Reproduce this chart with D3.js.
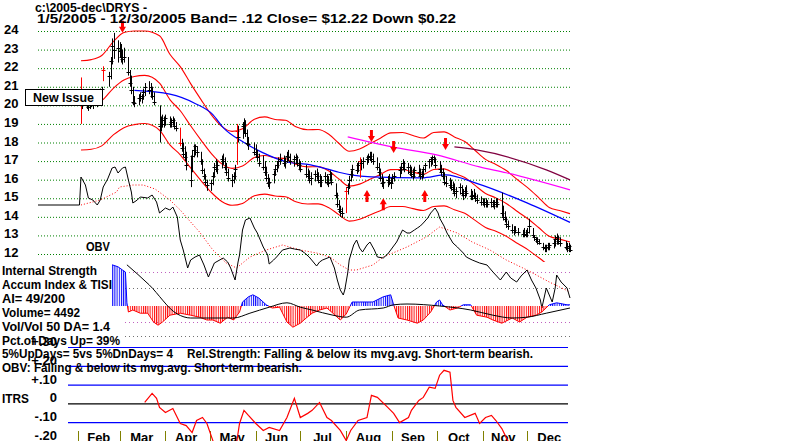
<!DOCTYPE html>
<html><head><meta charset="utf-8">
<script src="https://cdn.jsdelivr.net/npm/d3@7"></script>
<style>
body{margin:0;background:#fff}
svg{display:block}
text{font-family:"Liberation Sans",Arial,sans-serif;font-weight:bold;font-size:13px;fill:#000}
</style>
</head><body>
<svg id="c" width="800" height="441"></svg>
<script>
// ---------- DATA ----------
const daysFeb=[3,4,7,8,9,10,11,14,15,16,17,18,22,23,24,25,28];
const daysMar=[1,2,3,4,7,8,9,10,11,14,15,16,17,18,21,22,23,24,28,29,30,31];
const daysApr=[1,4,5,6,7,8,11,12,13,14,15,18,19,20,21,22,25,26,27,28,29];
const daysMay=[2,3,4,5,6,9,10,11,12,13,16,17,18,19,20,23,24,25,26,27,31];
const daysJun=[1,2,3,6,7,8,9,10,13,14,15,16,17,20,21,22,23,24,27,28,29,30];
const daysJul=[1,5,6,7,8,11,12,13,14,15,18,19,20,21,22,25,26,27,28,29];
const daysAug=[1,2,3,4,5,8,9,10,11,12,15,16,17,18,19,22,23,24,25,26,29,30,31];
const daysSep=[1,2,6,7,8,9,12,13,14,15,16,19,20,21,22,23,26,27,28,29,30];
const daysOct=[3,4,5,6,7,10,11,12,13,14,17,18,19,20,21,24,25,26,27,28,31];
const daysNov=[1,2,3,4,7,8,9,10,11,14,15,16,17,18,21,22,23,25,28,29,30];
const daysDec=[1,2,5,6,7,8,9,12,13,14,15,16,19,20,21,22,23,27,28,29,30];

const highs=[
21.5,20.4,20.3,20.2,20.2,20.3,20.2,20.4,20.6,20.9,21.0,22.1,21.8,22.6,23.6,23.9,23.5,
23.4,23.3,23.0,23.1,22.6,21.9,21.6,21.0,20.5,20.6,20.7,20.6,20.9,21.2,21.3,21.2,21.0,20.7,20.0,19.4,19.5,19.4,
19.5,19.4,19.3,19.4,19.3,19.1,18.8,18.2,18.0,17.8,17.5,17.3,17.6,17.9,17.9,17.8,17.5,17.1,16.6,16.3,16.0,
16.0,16.4,16.9,17.1,17.0,17.3,17.4,17.2,16.9,16.6,16.3,16.4,16.8,19.0,18.9,19.1,19.3,19.2,18.7,18.3,18.0,
17.9,17.6,17.4,17.3,17.0,16.7,16.3,16.1,16.5,16.8,17.0,17.2,17.4,17.3,17.2,17.5,17.6,17.4,17.3,17.4,17.3,17.1,
17.0,16.8,16.6,16.5,16.4,16.5,16.6,16.4,16.3,16.2,16.4,16.3,16.2,16.5,16.4,15.8,15.3,14.9,14.6,14.5,
15.6,15.8,16.2,16.5,16.8,16.9,17.0,17.2,17.1,17.2,17.3,17.4,17.5,17.5,17.4,17.2,16.9,16.6,16.3,16.1,16.2,16.3,16.1,
16.3,16.4,16.7,16.9,17.1,17.0,16.9,16.8,16.7,16.6,16.7,16.8,16.6,16.5,16.7,16.9,17.1,17.2,17.3,17.3,17.2,
17.0,16.8,16.6,16.4,16.2,16.1,16.0,15.9,15.8,15.6,15.8,15.7,15.5,15.6,15.7,15.5,15.4,15.5,15.3,15.2,15.1,
15.0,15.0,15.0,14.9,15.0,14.9,14.9,15.0,15.0,15.3,14.6,14.3,14.0,13.8,13.6,13.5,13.5,13.4,13.3,13.4,13.3,
13.4,13.9,13.4,13.0,12.9,12.9,12.8,12.6,12.5,12.5,12.6,12.6,12.8,13.0,13.1,13.0,12.9,12.7,12.6,12.6,12.5];
const lows=[
19.0,19.8,19.8,19.7,19.8,19.9,19.8,19.9,20.1,20.3,20.5,21.3,21.0,21.4,22.2,22.5,22.3,
22.6,22.3,22.2,22.3,21.6,21.0,20.6,20.0,19.9,20.0,20.2,20.1,20.3,20.5,20.6,20.4,20.3,20.0,18.0,18.6,18.8,18.8,
18.9,18.8,18.8,18.9,18.7,18.6,17.8,17.5,17.2,17.0,16.5,15.6,16.4,17.2,17.3,17.2,16.8,16.3,16.0,15.7,15.4,
15.4,15.7,16.1,16.4,16.3,16.6,16.8,16.5,16.2,15.9,15.6,15.8,16.0,16.8,18.0,18.2,18.5,18.3,17.8,17.6,17.3,
17.2,17.0,16.7,16.5,16.2,15.9,15.6,15.5,15.8,16.2,16.4,16.6,16.8,16.7,16.6,16.9,17.0,16.8,16.7,16.9,16.7,16.5,
16.4,16.1,16.0,15.8,15.7,15.9,16.0,15.8,15.6,15.6,15.8,15.7,15.6,15.9,15.7,15.0,14.5,14.2,14.0,13.95,
14.2,15.2,15.5,15.9,16.1,16.3,16.4,16.1,16.5,16.6,16.8,16.9,17.0,16.9,16.8,16.5,16.2,15.9,15.6,15.5,15.6,15.7,15.5,
15.8,15.9,16.1,16.3,16.5,16.4,16.3,16.2,16.1,16.0,16.1,16.2,16.0,16.0,16.1,16.4,16.6,16.7,16.8,16.9,16.6,
16.4,16.2,16.0,15.7,15.6,15.5,15.4,15.3,15.1,15.0,15.2,15.1,14.9,15.0,15.1,14.9,14.9,15.0,14.8,14.7,14.6,
14.6,14.5,14.5,14.5,14.5,14.5,14.4,14.5,14.5,14.0,13.8,13.7,13.4,13.3,13.1,13.0,13.1,13.0,12.9,12.9,12.9,
12.9,13.1,12.9,12.7,12.6,12.5,12.5,12.2,12.1,12.1,12.2,12.2,12.3,12.4,12.5,12.5,12.4,12.2,12.1,12.1,12.1];
const closes=[
20.0,20.1,20.0,19.9,20.1,20.2,20.0,20.3,20.5,20.8,20.9,21.9,21.6,22.4,23.2,23.0,23.1,
22.9,22.6,22.5,22.6,21.8,21.2,20.8,20.2,20.1,20.4,20.4,20.5,20.7,21.0,20.8,21.0,20.5,20.2,18.9,19.0,19.2,19.0,
19.3,19.0,19.1,19.2,18.9,18.8,18.0,17.7,17.4,17.2,16.8,16.0,17.3,17.6,17.8,17.5,17.0,16.5,16.2,15.9,15.7,
15.8,16.2,16.7,16.6,16.8,17.1,17.0,16.7,16.4,16.1,16.0,16.2,16.6,18.6,18.3,18.9,19.0,18.5,18.0,17.9,17.5,
17.4,17.2,16.9,16.7,16.4,16.1,15.8,15.9,16.3,16.6,16.8,17.0,17.1,16.9,17.0,17.3,17.2,17.0,17.1,17.2,16.9,16.8,
16.6,16.3,16.2,16.0,16.1,16.3,16.2,16.0,15.9,16.0,16.2,15.9,15.8,16.3,15.9,15.2,14.7,14.4,14.3,14.2,
15.4,15.6,16.0,16.3,16.6,16.5,16.8,17.0,16.9,17.0,17.1,17.2,17.3,17.1,17.0,16.7,16.4,16.1,15.8,15.9,16.0,15.9,15.8,
16.1,16.2,16.5,16.7,16.9,16.6,16.7,16.4,16.3,16.2,16.5,16.4,16.2,16.3,16.6,16.8,17.0,17.1,17.2,17.1,16.8,
16.6,16.4,16.2,15.9,15.8,15.7,15.6,15.5,15.3,15.4,15.6,15.3,15.2,15.4,15.3,15.1,15.2,15.1,15.0,14.9,14.8,
14.8,14.7,14.8,14.7,14.8,14.6,14.7,14.8,14.7,14.2,14.0,13.9,13.6,13.5,13.3,13.3,13.2,13.2,13.1,13.1,13.0,
13.2,13.5,13.0,12.9,12.8,12.7,12.6,12.4,12.3,12.4,12.4,12.5,12.6,12.8,12.9,12.7,12.6,12.4,12.3,12.44,12.22];
const redBarDates=["02-03","02-18","04-11","05-19","08-01","08-10"];

const priceTicks=[12,13,14,15,16,17,18,19,20,21,22,23,24];
const monthStarts=["02-01","03-01","04-01","05-01","06-01","07-01","08-01","09-01","10-01","11-01","12-01"];
const monthLabels=["Feb","Mar","Apr","May","Jun","Jul","Aug","Sep","Oct","Nov","Dec"];
const monthMids=["02-15","03-16","04-15","05-16","06-15","07-16","08-16","09-15","10-16","11-15","12-16"];

// 21-day average and its +/-12% band, read at every 5th trading day
const bandDates=["02-03","02-10","02-17","02-25","03-04","03-11","03-18","03-28","04-04","04-11","04-18","04-25","05-02","05-09","05-16","05-23","05-31","06-07","06-14","06-21","06-28","07-06","07-13","07-20","07-27","08-03","08-10","08-17","08-24","08-31","09-08","09-15","09-22","09-29","10-06","10-13","10-20","10-27","11-03","11-10","11-17","11-25","12-02","12-09","12-16","12-23","12-30"];
const bandMid=[20.0,20.05,20.25,20.93,21.36,21.55,21.61,21.2,20.31,19.71,18.9,18.13,17.4,16.85,16.61,16.73,17.19,17.3,17.18,17.14,16.83,16.69,16.7,16.48,16.04,15.65,15.76,16.02,16.28,16.54,16.55,16.41,16.29,16.55,16.58,16.34,16.12,15.69,15.26,15.02,14.72,14.26,13.87,13.41,12.95,12.8,12.65];
const bandUpper=[22.4,22.46,22.68,23.44,23.92,24.0,24.0,23.74,22.75,22.08,21.17,20.31,19.49,18.87,18.6,18.74,19.25,19.38,19.24,19.2,18.85,18.69,18.7,18.46,17.96,17.53,17.65,17.94,18.23,18.52,18.54,18.38,18.24,18.54,18.57,18.3,18.05,17.57,17.09,16.82,16.49,15.97,15.53,15.02,14.5,14.34,14.17];
const bandLower=[17.6,17.64,17.82,18.42,18.8,18.96,19.02,18.66,17.87,17.34,16.63,15.95,15.31,14.83,14.62,14.72,15.13,15.22,15.12,15.08,14.81,14.69,14.7,14.5,14.12,13.77,13.87,14.1,14.33,14.56,14.56,14.44,14.34,14.56,14.59,14.38,14.19,13.81,13.43,13.22,12.95,12.55,12.21,11.8,11.4,11.26,11.13];

const ma50Dates=["03-11","04-04","04-21","05-03","05-10","05-24","06-06","06-22","07-08","07-27","08-04","08-18","09-21","10-07","10-28","12-01","12-30"];
const ma50Values=[20.8,20.6,20.1,19.5,18.8,18.0,17.44,16.95,16.8,16.4,16.26,16.15,16.1,16.26,15.8,14.75,13.7];
const magDates=["08-02","09-01","10-01","10-30","11-17","12-30"];
const magValues=[18.3,17.76,17.33,16.69,16.37,15.45];
const purDates=["10-13","10-28","12-14","12-30"];
const purValues=[17.76,17.6,16.53,15.99];

const downArrowDates=["03-03","08-18","09-02","10-07"];
const downArrowTips=[23.9,18.03,17.44,17.6];
const upArrowDates=["08-15","08-26","09-23"];
const upArrowTips=[15.45,15.0,15.45];

const obvDates=["01-05","02-02","02-03","02-06","02-08","02-11","02-14","02-16","02-18","02-21","02-24","02-26","02-28","03-03","03-05","03-07","03-09","03-10","03-13","03-15","03-20","03-23","03-26","03-28","04-01","04-04","04-06","04-09","04-11","04-13","04-16","04-18","04-21","04-24","04-27","04-30","05-02","05-04","05-10","05-13","05-15","05-18","05-20","05-21","05-23","05-25","05-28","05-31","06-02","06-06","06-09","06-10","06-13","06-15","06-19","06-24","06-27","07-01","07-04","07-07","07-12","07-14","07-16","07-21","07-24","07-26","07-28","07-30","07-31","08-02","08-03","08-06","08-08","08-10","08-12","08-15","08-17","08-20","08-22","08-26","08-29","08-31","09-02","09-04","09-06","09-08","09-11","09-13","09-16","09-18","09-20","09-22","09-25","09-27","09-30","10-02","10-03","10-06","10-08","10-10","10-12","10-15","10-17","10-19","10-21","10-25","10-30","11-04","11-08","11-13","11-15","11-17","11-20","11-24","11-27","12-01","12-04","12-07","12-10","12-11","12-14","12-16","12-18","12-20","12-21","12-24","12-28","12-30"];
const obvValues=[950,950,1230,1150,1020,1000,950,1000,1130,1210,1320,1330,1270,1320,1330,1200,1080,970,1000,1030,1020,1050,980,870,920,900,930,830,600,500,320,400,430,450,350,230,300,370,420,380,320,200,380,450,700,800,820,720,670,530,450,360,400,430,500,520,510,500,470,430,340,380,400,430,320,200,100,50,100,270,400,550,600,520,480,550,580,500,430,420,460,500,540,580,640,700,670,670,700,720,740,770,820,870,920,870,820,740,670,620,570,530,500,470,430,400,370,350,280,200,240,280,220,180,240,300,200,120,0,-80,120,50,-20,120,250,180,120,20];
const obvMaDates=["02-03","02-16","02-27","03-01","03-10","03-17","03-25","04-04","04-11","04-15","04-24","05-03","05-12","05-19","05-28","06-08","06-19","07-01","07-12","07-21","07-28","08-03","08-08","08-19","08-26","09-03","09-11","09-24","10-03","10-15","10-25","11-06","11-17","12-01","12-16","12-30"];
const obvMaValues=[950,1000,1080,1130,1150,1150,1110,1000,900,830,680,500,370,320,430,500,550,500,470,430,350,300,300,350,430,480,530,630,730,670,580,500,400,300,180,80];

const aiDates=["02-24","02-28","03-03","03-05","03-06","03-07","03-10","03-15","03-20","03-24","03-27","03-30","04-04","04-11","04-18","04-24","04-29","05-03","05-08","05-13","05-17","05-21","05-23","05-27","05-30","06-03","06-08","06-12","06-17","06-22","06-26","07-01","07-05","07-09","07-14","07-19","07-23","07-28","08-01","08-05","08-10","08-19","08-26","08-31","09-02","09-05","09-11","09-18","09-22","09-27","10-01","10-03","10-05","10-10","10-15","10-19","10-24","10-28","11-04","11-08","11-14","11-21","11-26","12-01","12-07","12-11","12-16","12-21","12-28","12-30"];
const aiValues=[1.03,0.98,0.9,0.85,0.08,-0.15,-0.1,-0.18,-0.18,-0.4,-0.48,-0.4,-0.23,-0.18,-0.23,-0.28,-0.35,-0.35,-0.43,-0.28,-0.35,-0.15,0.1,0.23,0.28,0.2,0.03,-0.05,-0.03,-0.4,-0.53,-0.43,-0.3,-0.18,-0.1,-0.05,-0.18,-0.35,-0.2,0.1,0.1,0.1,0.23,0.28,0.03,-0.3,-0.35,-0.43,-0.35,-0.15,0.1,0.15,0.03,-0.1,-0.05,0.03,0.03,-0.23,-0.28,-0.35,-0.43,-0.3,-0.4,-0.28,-0.23,-0.15,0.03,0.08,0.03,0.03];
const tisiDates=["03-06","03-21","04-09","04-18","05-17","05-28","06-10","06-22","07-01","07-09","07-23","08-01","08-10","08-26","09-02","09-11","10-03","10-24","11-08","11-21","12-01","12-14","12-30"];
const tisiValues=[1.03,0.53,-0.2,-0.3,-0.3,-0.18,-0.03,0.08,-0.03,-0.1,-0.23,-0.28,-0.1,-0.05,0.03,0.05,0,-0.1,-0.23,-0.3,-0.28,-0.18,-0.05];
const aiGuideLevels=[0.85,0.45,-0.4,-0.75];

const itrsDates=["03-18","03-23","03-26","03-28","04-01","04-06","04-11","04-15","04-19","04-22","04-26","04-29","05-03","05-06","05-11","05-16","05-19","05-21","05-24","05-27","06-01","06-06","06-10","06-17","06-22","06-27","07-01","07-06","07-09","07-14","07-19","07-22","07-28","08-01","08-04","08-09","08-15","08-18","08-22","08-29","09-02","09-06","09-12","09-14","09-19","09-22","09-26","09-30","10-03","10-06","10-10","10-12","10-14","10-20","10-27","10-30","11-03","11-07","11-10","11-14","11-18","11-23","12-01","12-12","12-30"];
const itrsValues=[0.005,0.053,0.027,-0.021,-0.048,-0.027,-0.107,-0.118,-0.155,-0.091,-0.075,-0.107,-0.198,-0.26,-0.3,-0.26,-0.21,-0.107,-0.037,-0.064,-0.107,-0.144,-0.128,-0.144,-0.075,0.027,-0.075,-0.053,-0.037,0.005,-0.075,-0.091,-0.144,-0.198,-0.144,-0.091,-0.075,0.043,0.032,-0.021,-0.053,-0.102,-0.075,-0.037,0.016,0.032,0.086,0.080,0.150,0.176,0.166,0.016,-0.021,-0.075,-0.053,-0.107,-0.075,-0.064,-0.091,-0.134,-0.198,-0.25,-0.28,-0.3,-0.32];
const itrsLevels=[0.3,0.2,0.1,0,-0.1];
const itrsTickLabels=["+.30","+.20","+.10","0","-.10","-.20"];
const itrsTickValues=[0.3,0.2,0.1,0,-0.1,-0.2];

const infoLines=["Internal Strength","Accum Index & TISI","AI= 49/200","Volume= 4492","Vol/Vol 50 DA= 1.4","Pct.of Days Up= 39%"];

// ---------- SETUP ----------
const svg=d3.select("#c");
const parse=d3.timeParse("%Y-%m-%d");
const P=s=>parse("2005-"+s);
const x=d3.scaleTime().domain([parse("2005-01-05"),parse("2005-12-30")]).range([38,570]);
const y=d3.scaleLinear().domain([12,24]).range([254,31]);
const obvY=d3.scaleLinear().domain([0,1500]).range([300,150]);
const aiY=d3.scaleLinear().domain([-1,1]).range([346,266]);
const itY=d3.scaleLinear().domain([-0.2,0.3]).range([441,347]);

const monthArrs=[["02",daysFeb],["03",daysMar],["04",daysApr],["05",daysMay],["06",daysJun],["07",daysJul],["08",daysAug],["09",daysSep],["10",daysOct],["11",daysNov],["12",daysDec]];
const dates=[];
monthArrs.forEach(([m,a])=>a.forEach(d=>dates.push(m+"-"+String(d).padStart(2,"0"))));
const bars=dates.map((d,i)=>({d,h:highs[i],l:lows[i],c:closes[i],red:redBarDates.includes(d)}));

const defs=svg.append("defs");
defs.append("clipPath").attr("id","priceClip").append("rect").attr("x",30).attr("y",0).attr("width",560).attr("height",262);
defs.append("clipPath").attr("id","posClip").append("rect").attr("x",30).attr("y",200).attr("width",560).attr("height",aiY(0)-200);
defs.append("clipPath").attr("id","negClip").append("rect").attr("x",30).attr("y",aiY(0)).attr("width",560).attr("height",60);
[["stripeBlue","#0000ff"],["stripeRed","#ff0000"]].forEach(([id,col])=>{
  const p=defs.append("pattern").attr("id",id).attr("patternUnits","userSpaceOnUse").attr("width",2.2).attr("height",10);
  p.append("rect").attr("x",0).attr("y",0).attr("width",1).attr("height",10).attr("fill",col);
});

// price gridlines
svg.append("g").selectAll("line").data(priceTicks).join("line")
  .attr("x1",38).attr("x2",570).attr("y1",d=>y(d)+0.5).attr("y2",d=>y(d)+0.5)
  .attr("stroke","#008000").attr("stroke-width",1).attr("stroke-dasharray","1,2");
svg.append("g").selectAll("text").data(priceTicks).join("text")
  .attr("x",4).attr("y",d=>y(d)+3).text(d=>d);

// lower panel guide dotted lines
svg.append("g").selectAll("line").data(aiGuideLevels).join("line")
  .attr("x1",125).attr("x2",570).attr("y1",d=>aiY(d)+0.5).attr("y2",d=>aiY(d)+0.5)
  .attr("stroke",(d,i)=>i%2===0?"#c060c0":"#707070").attr("stroke-width",1).attr("stroke-dasharray","1,3");

// ITRS lines
svg.append("g").selectAll("line").data(itrsLevels).join("line")
  .attr("x1",68).attr("x2",568).attr("y1",d=>itY(d)+0.5).attr("y2",d=>itY(d)+0.5)
  .attr("stroke",d=>d===0?"#000":"#0000ff").attr("stroke-width",1.2);

// month ticks
svg.append("g").selectAll("line").data(monthStarts).join("line")
  .attr("x1",d=>Math.round(x(P(d)))+0.5).attr("x2",d=>Math.round(x(P(d)))+0.5)
  .attr("y1",431).attr("y2",441).attr("stroke","#808000").attr("stroke-width",1);
svg.append("g").selectAll("text").data(monthLabels).join("text")
  .attr("x",(d,i)=>x(P(monthMids[i]))).attr("y",442).attr("text-anchor","middle").text(d=>d);

// price overlay lines
const pg=svg.append("g").attr("clip-path","url(#priceClip)");
function pline(ds,vs,col,w){
  pg.append("path").datum(ds.map((d,i)=>[x(P(d)),y(vs[i])]))
    .attr("d",d3.line().curve(d3.curveMonotoneX)).attr("fill","none").attr("stroke",col).attr("stroke-width",w);
}
pline(bandDates,bandUpper,"#ff0000",1.1);
pline(bandDates,bandMid,"#ff0000",1.1);
pline(bandDates,bandLower,"#ff0000",1.1);
pline(ma50Dates,ma50Values,"#0000ff",1.2);
pline(magDates,magValues,"#ff00ff",1.2);
pline(purDates,purValues,"#800040",1.2);

// OBV
svg.append("path").datum(obvMaDates.map((d,i)=>[x(P(d)),obvY(obvMaValues[i])]))
  .attr("d",d3.line()).attr("fill","none").attr("stroke","#ff0000").attr("stroke-width",1).attr("stroke-dasharray","1,2");
svg.append("path").datum(obvDates.map((d,i)=>[x(P(d)),obvY(obvValues[i])]))
  .attr("d",d3.line()).attr("fill","none").attr("stroke","#000").attr("stroke-width",1);

// AI histogram
const aiPts=aiDates.map((d,i)=>[x(P(d)),aiY(aiValues[i])]);
const area=d3.area().x(d=>d[0]).y0(aiY(0)).y1(d=>d[1]);
svg.append("path").datum(aiPts).attr("d",area).attr("fill","url(#stripeBlue)").attr("clip-path","url(#posClip)");
svg.append("path").datum(aiPts).attr("d",area).attr("fill","url(#stripeRed)").attr("clip-path","url(#negClip)");
svg.append("path").datum(aiPts).attr("d",d3.line()).attr("fill","none").attr("stroke","#0000ff").attr("stroke-width",1).attr("clip-path","url(#posClip)");
svg.append("path").datum(aiPts).attr("d",d3.line()).attr("fill","none").attr("stroke","#ff0000").attr("stroke-width",1).attr("clip-path","url(#negClip)");
svg.append("path").datum(tisiDates.map((d,i)=>[x(P(d)),aiY(tisiValues[i])]))
  .attr("d",d3.line().curve(d3.curveMonotoneX)).attr("fill","none").attr("stroke","#000").attr("stroke-width",1);

// ITRS red line
svg.append("path").datum(itrsDates.map((d,i)=>[x(P(d)),itY(itrsValues[i])]))
  .attr("d",d3.line()).attr("fill","none").attr("stroke","#ff0000").attr("stroke-width",1.2);

// price bars
const bg=svg.append("g");
bars.forEach(b=>{
  const cx=Math.round(x(P(b.d)))+0.5, col=b.red?"#ff0000":"#000";
  bg.append("line").attr("x1",cx).attr("x2",cx).attr("y1",y(b.h)).attr("y2",y(b.l)).attr("stroke",col).attr("stroke-width",1);
  bg.append("line").attr("x1",cx-2).attr("x2",cx+2).attr("y1",Math.round(y(b.c))+0.5).attr("y2",Math.round(y(b.c))+0.5).attr("stroke",col).attr("stroke-width",1);
});

// arrows
function arrow(cx,tip,dir){
  const s=dir;
  const p=`M${cx-1.5},${tip-s*12} L${cx+1.5},${tip-s*12} L${cx+1.5},${tip-s*6} L${cx+3.5},${tip-s*6} L${cx},${tip} L${cx-3.5},${tip-s*6} L${cx-1.5},${tip-s*6} Z`;
  svg.append("path").attr("d",p).attr("fill","#ff0000");
}
downArrowDates.forEach((d,i)=>arrow(x(P(d)),y(downArrowTips[i]),1));
upArrowDates.forEach((d,i)=>arrow(x(P(d)),y(upArrowTips[i]),-1));

// texts
function T(str,tx,ty,len){const t=svg.append("text").attr("x",tx).attr("y",ty).text(str);
  if(len) t.attr("textLength",len).attr("lengthAdjust","spacingAndGlyphs"); return t;}
T("c:\\2005-dec\\DRYS   -",35,12,112);
T("1/5/2005 - 12/30/2005  Band= .12   Close= $12.22   Down $0.22",37,23,419);
svg.append("rect").attr("x",25.5).attr("y",89.5).attr("width",77).attr("height",16).attr("fill","#fff").attr("stroke","#000").attr("stroke-width",1);
T("New Issue",33,102,61);
T("OBV",86,251,24);
const infoY=[275,289,303,317,331,345];
const infoW=[95,110,63,78,108,118];
infoLines.forEach((s,i)=>T(s,2,infoY[i],infoW[i]));
itrsTickLabels.forEach((s,i)=>svg.append("text").attr("x",57).attr("y",itY(itrsTickValues[i])-1).attr("text-anchor","end").text(s));
T("5%UpDays= 5vs 5%DnDays= 4",2,358,171);
T("Rel.Strength: Falling & below its mvg.avg. Short-term bearish.",187,358,346);
T("OBV: Falling & below its mvg.avg. Short-term bearish.",2,372,300);
T("ITRS",2,403,27);
</script>
</body></html>
